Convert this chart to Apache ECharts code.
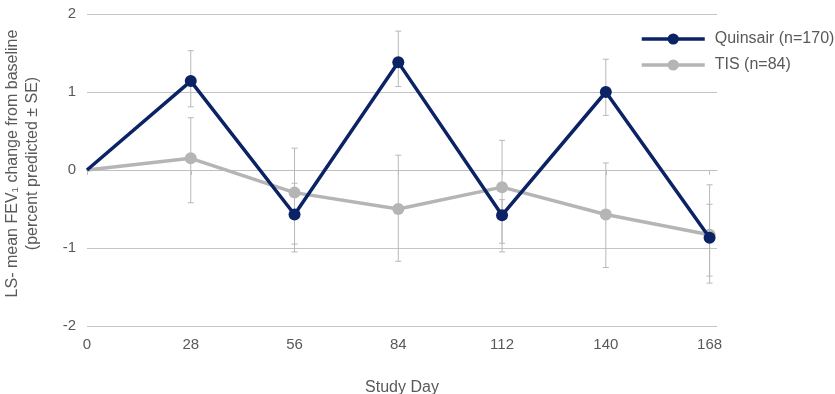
<!DOCTYPE html>
<html>
<head>
<meta charset="utf-8">
<script src="https://cdn.jsdelivr.net/npm/echarts@6/dist/echarts.min.js"></script>
<style>
html,body{margin:0;padding:0;background:#fff;}
#chart{width:835px;height:394px;}
</style>
</head>
<body>
<div id="chart"></div>
<script>
var days = [0, 28, 56, 84, 112, 140, 168];
var xTickLabels = [0, 28, 56, 84, 112, 140, 168];
var yTickLabels = [-2, -1, 0, 1, 2];
var quinsair = [0, 1.14, -0.57, 1.38, -0.58, 1.00, -0.87];
var quinsairLow = [null, 0.81, -0.95, 1.07, -0.94, 0.70, -1.36];
var quinsairHigh = [null, 1.53, -0.17, 1.78, -0.38, 1.42, -0.44];
var tis = [0, 0.15, -0.29, -0.50, -0.22, -0.57, -0.83];
var tisLow = [null, -0.42, -1.05, -1.17, -1.05, -1.25, -1.45];
var tisHigh = [null, 0.67, 0.28, 0.19, 0.38, 0.09, -0.19];

var navy = '#0b2265';
var grey = '#b5b5b5';
var textColor = '#595959';
var font = 'Liberation Sans, Arial, sans-serif';

function lineData(vals) {
  return days.map(function (d, i) {
    var item = { value: [d, vals[i]] };
    if (i === 0) item.symbol = 'none';
    return item;
  });
}
function errData(lo, hi) {
  var out = [];
  days.forEach(function (d, i) {
    if (lo[i] !== null) out.push([d, lo[i], hi[i]]);
  });
  return out;
}
function renderErr(params, api) {
  var x = api.value(0);
  var p1 = api.coord([x, api.value(1)]);
  var p2 = api.coord([x, api.value(2)]);
  var hw = 3;
  var st = { stroke: '#b8b8b8', lineWidth: 1 };
  return {
    type: 'group',
    children: [
      { type: 'line', shape: { x1: p1[0], y1: p1[1], x2: p2[0], y2: p2[1] }, style: st },
      { type: 'line', shape: { x1: p1[0] - hw, y1: p1[1], x2: p1[0] + hw, y2: p1[1] }, style: st },
      { type: 'line', shape: { x1: p2[0] - hw, y1: p2[1], x2: p2[0] + hw, y2: p2[1] }, style: st }
    ]
  };
}

var chart = echarts.init(document.getElementById('chart'), null, { renderer: 'canvas' });
chart.setOption({
  animation: false,
  backgroundColor: '#fff',
  grid: { left: 87, right: 118, top: 14, bottom: 68, containLabel: false, outerBoundsMode: 'none' },
  legend: {
    orient: 'vertical',
    left: 635,
    top: 26,
    itemWidth: 63,
    itemHeight: 14,
    itemGap: 10,
    lineStyle: { width: 3.5 },
    textStyle: { color: textColor, fontSize: 16, fontFamily: font, padding: [0, 0, 0, 5] },
    data: ['Quinsair (n=170)', 'TIS (n=84)']
  },
  xAxis: {
    type: 'value',
    min: 0,
    max: 170,
    interval: 28,
    name: 'Study Day',
    nameLocation: 'middle',
    nameGap: 54,
    nameTextStyle: { color: textColor, fontSize: 16, fontFamily: font },
    axisLine: { show: true, lineStyle: { color: '#bfbfbf', width: 1 } },
    axisTick: { show: true, length: 5, lineStyle: { color: '#bfbfbf' }, customValues: xTickLabels },
    axisLabel: { color: textColor, fontSize: 15, fontFamily: font, margin: 11, customValues: xTickLabels },
    splitLine: { show: false }
  },
  yAxis: {
    type: 'value',
    min: -2,
    max: 2,
    interval: 1,
    name: 'LS- mean FEV\u2081 change from baseline\n(percent predicted \u00b1 SE)',
    nameLocation: 'middle',
    nameGap: 44,
    nameRotate: 90,
    nameTextStyle: { color: textColor, fontSize: 16, fontFamily: font, lineHeight: 20, align: 'center', padding: [0, 0, 0, 13] },
    axisLine: { show: false },
    axisTick: { show: false },
    axisLabel: { color: textColor, fontSize: 15, fontFamily: font, margin: 11, customValues: yTickLabels },
    splitLine: { show: true, lineStyle: { color: '#c4c4c4', width: 1 } }
  },
  series: [
    {
      name: 'TIS err', type: 'custom', renderItem: renderErr, z: 1,
      data: errData(tisLow, tisHigh), encode: { x: 0, y: [1, 2] }, silent: true
    },
    {
      name: 'Quinsair err', type: 'custom', renderItem: renderErr, z: 1,
      data: errData(quinsairLow, quinsairHigh), encode: { x: 0, y: [1, 2] }, silent: true
    },
    {
      name: 'TIS (n=84)', type: 'line', z: 3,
      data: lineData(tis),
      symbol: 'circle', symbolSize: 12,
      lineStyle: { color: grey, width: 3.5 },
      itemStyle: { color: grey }
    },
    {
      name: 'Quinsair (n=170)', type: 'line', z: 4,
      data: lineData(quinsair),
      symbol: 'circle', symbolSize: 12,
      lineStyle: { color: navy, width: 3.5 },
      itemStyle: { color: navy }
    }
  ]
});
</script>
</body>
</html>
